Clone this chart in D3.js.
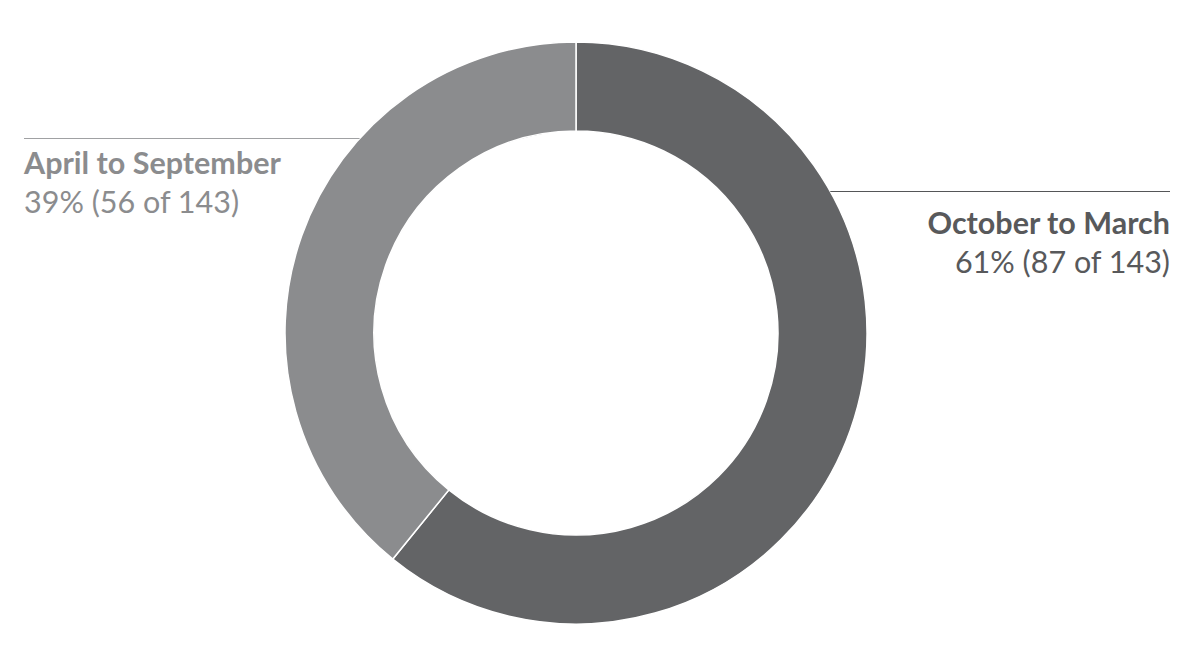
<!DOCTYPE html>
<html>
<head>
<meta charset="utf-8">
<script src="https://cdn.jsdelivr.net/npm/d3@7"></script>
<style>
  html, body { margin: 0; padding: 0; background: #fff; }
  svg { display: block; font-family: Lato, "Open Sans", sans-serif; }
</style>
</head>
<body>
<div id="chart"></div>
<script>
// Chart data
const categories = ["October to March", "April to September"];
const counts = [87, 56];
const percentLabels = ["61%", "39%"];
const TOTAL = 143;

const WIDTH = 1195;
const HEIGHT = 667;
const CENTER = { x: 576, y: 333 };
const OUTER_R = 291;
const INNER_R = 202;

const COLORS = {
  "October to March": "#636466",
  "April to September": "#8b8c8e",
};
const TEXT_COLORS = {
  "October to March": "#58595b",
  "April to September": "#8b8c8e",
};
const LINE_COLORS = {
  "October to March": "#555658",
  "April to September": "#a0a1a3",
};

// label placement: leader line y, line end x, title/value baselines
const LABELS = {
  "October to March": { side: "right", lineY: 191.5, edgeX: 1170, titleY: 233.5, valueY: 273 },
  "April to September": { side: "left", lineY: 138.5, edgeX: 24, titleY: 173.5, valueY: 212.5 },
};

const svg = d3.select("#chart")
  .append("svg")
  .attr("width", WIDTH)
  .attr("height", HEIGHT);

const g = svg.append("g")
  .attr("transform", `translate(${CENTER.x},${CENTER.y})`);

const slices = categories.map((c, i) => ({ category: c, value: counts[i], pct: percentLabels[i] }));

const pie = d3.pie()
  .sort(null)
  .value((d) => d.value);

const arc = d3.arc()
  .innerRadius(INNER_R)
  .outerRadius(OUTER_R);

g.selectAll(".slice")
  .data(pie(slices))
  .enter()
  .append("path")
  .attr("class", "slice")
  .attr("d", arc)
  .attr("fill", (d) => COLORS[d.data.category])
  .attr("stroke", "#fff")
  .attr("stroke-width", 1.5);

// Leader lines and labels
slices.forEach((d) => {
  const pos = LABELS[d.category];
  const dy = pos.lineY - CENTER.y;
  const dx = Math.sqrt(OUTER_R * OUTER_R - dy * dy);
  const circleX = pos.side === "right" ? CENTER.x + dx : CENTER.x - dx;

  svg.append("line")
    .attr("x1", circleX)
    .attr("x2", pos.edgeX)
    .attr("y1", pos.lineY)
    .attr("y2", pos.lineY)
    .attr("stroke", LINE_COLORS[d.category])
    .attr("stroke-width", 1.2);

  const anchor = pos.side === "right" ? "end" : "start";

  svg.append("text")
    .attr("x", pos.edgeX)
    .attr("y", pos.titleY)
    .attr("text-anchor", anchor)
    .attr("fill", TEXT_COLORS[d.category])
    .style("font-size", "30.5px")
    .style("font-weight", 700)
    .text(d.category);

  svg.append("text")
    .attr("x", pos.edgeX)
    .attr("y", pos.valueY)
    .attr("text-anchor", anchor)
    .attr("fill", TEXT_COLORS[d.category])
    .style("font-size", "30.5px")
    .style("font-weight", 400)
    .text(`${d.pct} (${d.value} of ${TOTAL})`);
});
</script>
</body>
</html>
